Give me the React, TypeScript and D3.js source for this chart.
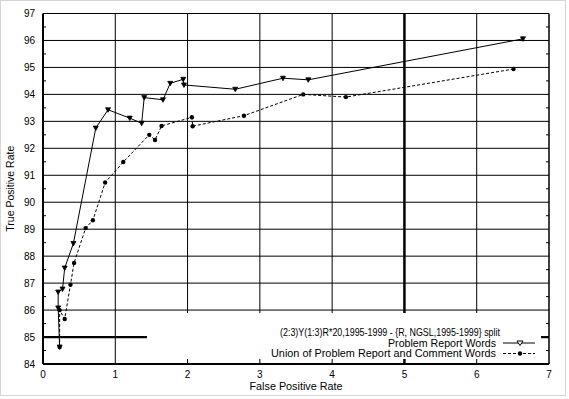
import React from 'react';
import * as d3 from 'd3';

// Problem Report Words (solid, triangle markers)
const prFpr = [0.23, 0.21, 0.21, 0.27, 0.30, 0.42, 0.73, 0.90, 1.20, 1.365, 1.40, 1.66, 1.76, 1.94, 1.95, 2.66, 3.32, 3.67, 6.64];
const prTpr = [84.63, 86.08, 86.67, 86.78, 87.56, 88.47, 92.75, 93.43, 93.12, 92.93, 93.88, 93.8, 94.41, 94.56, 94.35, 94.19, 94.6, 94.54, 96.06];

// Union of Problem Report and Comment Words (dashed, dot markers)
const unFpr = [0.23, 0.23, 0.30, 0.38, 0.43, 0.59, 0.69, 0.86, 1.11, 1.47, 1.55, 1.64, 2.06, 2.07, 2.78, 3.60, 4.19, 6.51];
const unTpr = [84.63, 86.0, 85.67, 86.94, 87.75, 89.04, 89.33, 90.73, 91.49, 92.5, 92.31, 92.83, 93.15, 92.82, 93.21, 94.0, 93.9, 94.94];

const xTicks = [0, 1, 2, 3, 4, 5, 6, 7];
const yTicks = [84, 85, 86, 87, 88, 89, 90, 91, 92, 93, 94, 95, 96, 97];
const legendTitle = '(2:3)Y(1:3)R*20,1995-1999 - {R, NGSL,1995-1999} split';
const seriesNames = ['Problem Report Words', 'Union of Problem Report and Comment Words'];

export default function App() {
  const W = 569;
  const H = 399;
  const x = d3.scaleLinear().domain([0, 7]).range([43, 549]);
  const y = d3.scaleLinear().domain([84, 97]).range([364, 13.5]);
  const line = d3.line<[number, number]>().x(d => x(d[0])).y(d => y(d[1]));
  const pr: [number, number][] = prFpr.map((v, i) => [v, prTpr[i]]);
  const un: [number, number][] = unFpr.map((v, i) => [v, unTpr[i]]);
  const minor = d3.range(84.5, 97, 1);
  const font = '"Liberation Sans", Arial, sans-serif';

  const tri = (cx: number, cy: number) =>
    `M${cx - 2.5},${cy - 2} L${cx + 2.5},${cy - 2} L${cx},${cy + 2.5} Z`;

  // legend box
  const lx0 = 147, lx1 = 541, ly0 = 313, ly1 = 359;

  return (
    <div style={{ position: 'absolute', left: 0, top: 0 }}>
      <svg width={W} height={H} style={{ display: 'block', background: '#fff' }} fontFamily={font}>
        <rect x={0.5} y={0.5} width={565} height={395} fill="none" stroke="#aaa" strokeDasharray="1,1" />

        {/* grid */}
        {yTicks.slice(1, -1).map(t => (
          <line key={'gy' + t} x1={x(0)} x2={x(7)} y1={y(t)} y2={y(t)} stroke="#000"
            strokeWidth={t === 85 ? 2.2 : 1} />
        ))}
        {xTicks.slice(1, -1).map(t => (
          <line key={'gx' + t} x1={x(t)} x2={x(t)} y1={y(97)} y2={y(84)} stroke="#000"
            strokeWidth={t === 5 ? 2.5 : 1} />
        ))}
        {minor.map(t => (
          <g key={'m' + t}>
            <line x1={x(0)} x2={x(0) + 3} y1={y(t)} y2={y(t)} stroke="#000" />
            <line x1={x(7) - 3} x2={x(7)} y1={y(t)} y2={y(t)} stroke="#000" />
          </g>
        ))}

        {/* frame */}
        <line x1={x(0)} x2={x(7)} y1={y(97)} y2={y(97)} stroke="#000" />
        <line x1={x(7)} x2={x(7)} y1={y(97)} y2={y(84)} stroke="#000" strokeWidth={1.5} />
        <line x1={x(0)} x2={x(0)} y1={y(97)} y2={y(84)} stroke="#000" strokeWidth={2} />
        <line x1={x(0)} x2={x(7)} y1={y(84)} y2={y(84)} stroke="#000" strokeWidth={2.2} />

        {/* series */}
        <path d={line(pr) || ''} fill="none" stroke="#000" strokeWidth={1} />
        <path d={line(un) || ''} fill="none" stroke="#000" strokeWidth={1} strokeDasharray="3,2" />
        {pr.map((d, i) => (
          <path key={'pm' + i} d={tri(x(d[0]), y(d[1]))} fill="#000" stroke="#000" strokeWidth={0.8} />
        ))}
        {un.map((d, i) => (
          <circle key={'um' + i} cx={x(d[0])} cy={y(d[1])} r={2.2} fill="#000" />
        ))}

        {/* legend */}
        <rect x={lx0} y={ly0} width={lx1 - lx0} height={ly1 - ly0} fill="#fff" />
        <g fontSize={10.5} fill="#000" textAnchor="end">
          <text x={500} y={336} textLength={220} lengthAdjust="spacingAndGlyphs">{legendTitle}</text>
          <text x={496} y={346.5} textLength={108} lengthAdjust="spacingAndGlyphs">{seriesNames[0]}</text>
          <text x={496} y={357} textLength={225} lengthAdjust="spacingAndGlyphs">{seriesNames[1]}</text>
        </g>
        <line x1={503} x2={535} y1={343} y2={343} stroke="#000" />
        <path d={`M517,341 L523,341 L520,345.5 Z`} fill="#fff" stroke="#000" />
        <line x1={503} x2={535} y1={353.5} y2={353.5} stroke="#000" strokeDasharray="3,2" />
        <circle cx={520} cy={353.5} r={2.2} fill="#000" />

        {/* axis labels */}
        <g fontSize={10} fill="#000">
          {yTicks.map(t => (
            <text key={'yl' + t} x={35} y={y(t) + 3.5} textAnchor="end">{t}</text>
          ))}
          {xTicks.map(t => (
            <text key={'xl' + t} x={x(t)} y={378} textAnchor="middle">{t}</text>
          ))}
          <text x={296} y={390} fontSize={10.5} textAnchor="middle" textLength={93} lengthAdjust="spacingAndGlyphs">False Positive Rate</text>
          <text transform={`translate(13.5,${(y(84) + y(97)) / 2}) rotate(-90)`} fontSize={10.5} textAnchor="middle">True Positive Rate</text>
        </g>
      </svg>
    </div>
  );
}
